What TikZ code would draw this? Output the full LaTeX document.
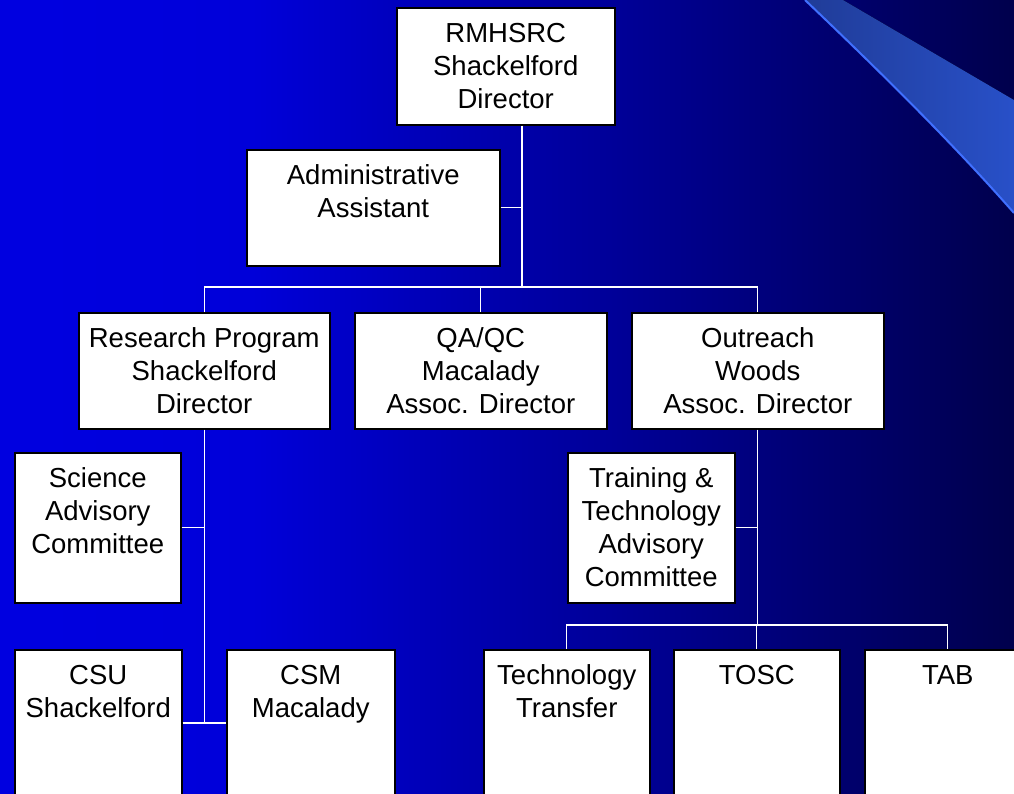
\documentclass[tikz,border=0pt]{standalone}
\usepackage{fontspec}
\setmainfont{Liberation Sans}
\usetikzlibrary{calc}
\pgfdeclarehorizontalshading{bgshade}{100bp}{rgb(0bp)=(0,0,0.88); rgb(25bp)=(0,0,0.88); rgb(37.5bp)=(0,0,0.85); rgb(47.5bp)=(0,0,0.70); rgb(55bp)=(0,0,0.60); rgb(65bp)=(0,0,0.45); rgb(75bp)=(0,0,0.30); rgb(100bp)=(0,0,0.30)}
\definecolor{swoopA}{RGB}{32,60,152}
\definecolor{swoopB}{RGB}{40,80,200}
\definecolor{swoopEdge}{RGB}{64,112,255}
\newcommand\orgtext[3]{\parbox[c][#2][t]{#1}{\centering\rule{0pt}{35pt}#3}}
\begin{document}
\begin{tikzpicture}[x=1pt,y=-1pt,
  box/.style={draw=black, line width=1.5pt, fill=white, inner sep=0pt, anchor=north west, font=\fontsize{27.5}{33}\selectfont},
  link/.style={draw=white, line width=1.3pt}]
\useasboundingbox (0,0) rectangle (1014,793);
\clip (0,0) rectangle (1014,793);
\shade[shading=bgshade] (0,0) rectangle (1014,793);
% swoosh
\fill[left color=swoopA, right color=swoopB] (805,0) .. controls (870,62) and (950,140) .. (1014,213) -- (1014,100) -- (843,0) -- cycle;
\draw[swoopEdge, line width=2pt] (805,0) .. controls (870,62) and (950,140) .. (1014,213);

% boxes
\node[box] (top) at (396,7) {\orgtext{218pt}{117pt}{RMHSRC\\Shackelford\\Director}};
\node[box] (admin) at (246,149) {\orgtext{253pt}{116pt}{Administrative\\Assistant}};
\node[box] (research) at (78,312) {\orgtext{251pt}{116pt}{Research Program\\Shackelford\\Director}};
\node[box] (qaqc) at (354,312) {\orgtext{252pt}{116pt}{QA/QC\\Macalady\\Assoc. Director}};
\node[box] (outreach) at (631,312) {\orgtext{252pt}{116pt}{Outreach\\Woods\\Assoc. Director}};
\node[box] (science) at (14,452) {\orgtext{166pt}{150pt}{Science\\Advisory\\Committee}};
\node[box] (training) at (567,452) {\orgtext{167pt}{150pt}{Training \&\\Technology\\Advisory\\Committee}};
\node[box] (csu) at (14,649) {\orgtext{167pt}{200pt}{CSU\\Shackelford}};
\node[box] (csm) at (226,649) {\orgtext{168pt}{200pt}{CSM\\Macalady}};
\node[box] (tt) at (483,649) {\orgtext{166pt}{200pt}{Technology\\Transfer}};
\node[box] (tosc) at (673,649) {\orgtext{166pt}{200pt}{TOSC}};
\node[box] (tab) at (864,649) {\orgtext{166pt}{200pt}{TAB}};

% junctions
\coordinate (j0) at (522,287);
\coordinate (j1) at (203,723);
\coordinate (j2) at (757,625);

% connectors
\draw[link] (top.south -| j0) -- (j0);
\draw[link] (admin.east) -- (admin.east -| j0);
\draw[link] (research.north) -- (research.north |- j0) -- (outreach.north |- j0) -- (outreach.north);
\draw[link] (qaqc.north) -- (qaqc.north |- j0);
\draw[link] (research.south) -- (research.south |- j1);
\draw[link] (science.east) -- (science.east -| research.south);
\draw[link] (csu.east |- j1) -- (csm.west |- j1);
\draw[link] (outreach.south) -- (outreach.south |- j2);
\draw[link] (training.east) -- (training.east -| outreach.south);
\draw[link] (tt.north) -- (tt.north |- j2) -- (tab.north |- j2) -- (tab.north);
\draw[link] (tosc.north) -- (tosc.north |- j2);
\end{tikzpicture}
\end{document}
